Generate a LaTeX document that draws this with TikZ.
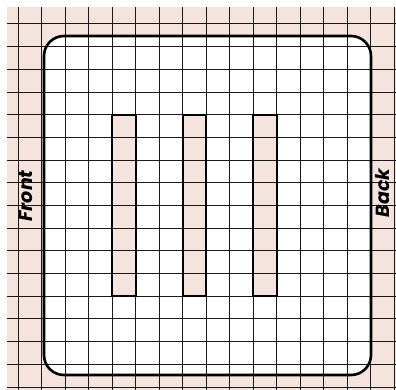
\documentclass[tikz,border=0pt]{standalone}
\usepackage{fontspec}
\newfontfamily\labfont{Poppins}
\definecolor{paper}{HTML}{F5E3DD}
\tikzset{
  gridline/.style={black!90, line width=1pt},
  outline/.style={black, line width=2.6pt, rounded corners=20pt},
  slotfill/.style={fill=paper},
  slot/.style={draw=black, line width=2pt},
  sidelabel/.style={font=\labfont\bfseries\itshape\fontsize{19}{19}\selectfont, rotate=90, inner sep=0pt}
}
\begin{document}
\begin{tikzpicture}[x=1pt,y=-1pt]
\useasboundingbox (0,0) rectangle (396,390);
\fill[white] (0,0) rectangle (396,390);
\fill[paper] (7,7) rectangle (396,390);
\fill[white, rounded corners=20pt] (44,36) rectangle (371,375);
% slot fills (under the grid)
\fill[slotfill] (112,114.8) rectangle (135.5,296.3);
\fill[slotfill] (182.5,114.8) rectangle (206,296.3);
\fill[slotfill] (253,114.8) rectangle (276.5,296.3);
% grid
\foreach \k in {0,...,16} {
  \draw[gridline] ({18+23.5*\k},7) -- ({18+23.5*\k},390);
  \draw[gridline] (7,{24+22.69*\k}) -- (396,{24+22.69*\k});
}
\draw[outline] (44,36) rectangle (371,375);
% slot outlines
\draw[slot] (112,114.8) rectangle (135.5,296.3);
\draw[slot] (182.5,114.8) rectangle (206,296.3);
\draw[slot] (253,114.8) rectangle (276.5,296.3);
% labels
\node[sidelabel] (front) at (26,196) {Front};
\node[sidelabel] (back) at (383,193) {Back};
\end{tikzpicture}
\end{document}
